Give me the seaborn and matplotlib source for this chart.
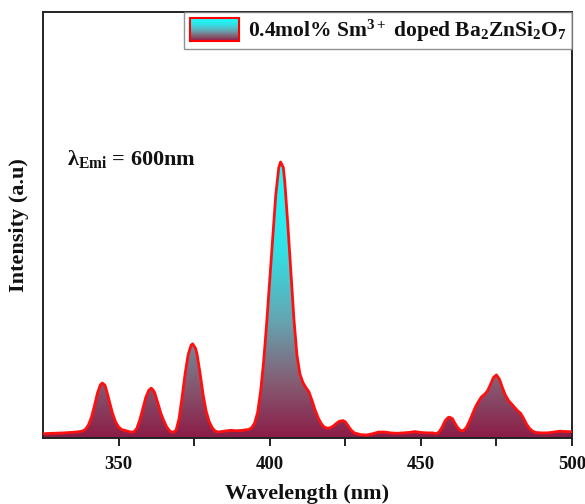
import numpy as np
import pandas as pd
import matplotlib
matplotlib.use("Agg")
import matplotlib.pyplot as plt
import seaborn as sns
from matplotlib.colors import LinearSegmentedColormap
from matplotlib.patches import Polygon, Rectangle
from matplotlib.legend_handler import HandlerBase

# ---- data ----
wavelength = [325, 328, 332, 336, 338, 339, 340, 341, 342, 343, 344, 344.6, 345.5, 346, 347, 348, 349, 350,
              351, 352, 353, 354, 355, 356, 357, 358, 359, 360, 360.8, 361.5, 362, 363, 364, 365, 366, 367,
              368, 369, 370, 371, 372, 373, 374, 374.5, 375.5, 376, 377, 378, 379, 380, 381, 382, 383, 385,
              387, 389, 391, 393, 394, 395, 396, 397, 398, 399, 400, 401, 402, 403, 403.6, 404.5, 405, 406,
              407, 408, 409, 410, 411, 412, 413, 414, 415, 416, 417, 418, 419, 420, 421, 422, 423, 424.2,
              425, 426, 427, 428, 430, 432, 434, 436, 438, 440, 442, 444, 446, 448, 450, 452, 454, 455, 456,
              457, 458, 459, 459.5, 460.5, 461, 462, 463, 464, 465, 466, 467, 468, 469, 470, 471, 472, 473,
              474, 475, 476, 477, 478, 479, 480, 481, 482, 483, 484, 485, 486, 487, 488, 490, 492, 494, 496,
              498, 500]
intensity = [0.010, 0.011, 0.012, 0.014, 0.016, 0.020, 0.030, 0.048, 0.075, 0.105, 0.125, 0.129, 0.124, 0.112,
             0.085, 0.058, 0.038, 0.026, 0.020, 0.018, 0.016, 0.014, 0.014, 0.022, 0.042, 0.068, 0.095, 0.112,
             0.117, 0.112, 0.105, 0.082, 0.058, 0.040, 0.025, 0.016, 0.013, 0.018, 0.045, 0.095, 0.150, 0.195,
             0.218, 0.221, 0.210, 0.195, 0.150, 0.100, 0.062, 0.038, 0.024, 0.016, 0.014, 0.016, 0.018, 0.017,
             0.018, 0.020, 0.024, 0.035, 0.060, 0.110, 0.180, 0.270, 0.370, 0.470, 0.570, 0.635, 0.648, 0.635,
             0.600, 0.500, 0.390, 0.280, 0.195, 0.150, 0.130, 0.118, 0.108, 0.088, 0.066, 0.048, 0.034, 0.026,
             0.023, 0.024, 0.028, 0.034, 0.039, 0.041, 0.038, 0.028, 0.018, 0.012, 0.008, 0.007, 0.010, 0.014,
             0.014, 0.012, 0.011, 0.012, 0.013, 0.015, 0.013, 0.012, 0.012, 0.010, 0.014, 0.025, 0.040, 0.048,
             0.049, 0.045, 0.038, 0.026, 0.018, 0.017, 0.024, 0.038, 0.055, 0.072, 0.085, 0.096, 0.102, 0.110,
             0.125, 0.142, 0.148, 0.138, 0.118, 0.100, 0.088, 0.080, 0.072, 0.064, 0.058, 0.046, 0.032, 0.022,
             0.016, 0.013, 0.012, 0.012, 0.014, 0.016, 0.015, 0.015]
major_ticks = [350, 400, 450, 500]
minor_ticks = [375, 425, 475]
legend_label = r"0.4mol% Sm$^{\mathbf{3+}}$ doped Ba$_\mathbf{2}$ZnSi$_\mathbf{2}$O$_\mathbf{7}$"
annotation = r"$\mathbf{\lambda}_{\mathbf{Emi}}$ = 600nm"

df = pd.DataFrame({"Wavelength": wavelength, "Intensity": intensity})

sns.set_theme(style="ticks")
plt.rcParams["font.family"] = ["Liberation Serif", "DejaVu Serif"]
plt.rcParams["font.weight"] = "bold"
plt.rcParams["mathtext.fontset"] = "custom"
plt.rcParams["mathtext.rm"] = "Liberation Serif:bold"
plt.rcParams["mathtext.bf"] = "Liberation Serif:bold"
plt.rcParams["mathtext.it"] = "Liberation Serif:bold"

fig = plt.figure(figsize=(5.85, 5.04), dpi=100)
ax = fig.add_axes([43 / 585, 1 - 438 / 504, (572 - 43) / 585, (438 - 12) / 504])

cmap = LinearSegmentedColormap.from_list(
    "grad",
    [(0.0, (0.55, 0.11, 0.28)), (0.2, (0.52, 0.36, 0.45)), (0.42, (0.40, 0.64, 0.69)),
     (0.68, (0.20, 0.88, 0.90)), (1.0, (0.10, 1.0, 1.0))])

xmin, xmax = 325, 500
ymax_data = max(intensity)
grad = np.linspace(0, 1, 256).reshape(-1, 1)
img = ax.imshow(grad, cmap=cmap, origin="lower", aspect="auto",
                extent=[xmin, xmax, 0, ymax_data], zorder=1)
verts = [(xmin, 0)] + list(zip(wavelength, intensity)) + [(xmax, 0)]
poly = Polygon(verts, closed=True, facecolor="none", edgecolor="none", transform=ax.transData)
ax.add_patch(poly)
img.set_clip_path(poly)

sns.lineplot(data=df, x="Wavelength", y="Intensity", ax=ax, color="#ff1010", linewidth=2.0, zorder=3)

ax.set_xlim(xmin, xmax)
ax.set_ylim(0, 1.0)
ax.set_xticks(major_ticks)
ax.set_xticks(minor_ticks, minor=True)
ax.set_yticks([])
ax.tick_params(axis="x", which="both", direction="out", length=6, width=1.3, pad=7,
               labelsize=13.5, top=False, colors="#111111")
for lbl in ax.get_xticklabels():
    lbl.set_fontweight("bold")
for s in ax.spines.values():
    s.set_linewidth(1.4)
    s.set_color("#222222")

ax.set_xlabel("Wavelength (nm)", fontsize=16, fontweight="bold", labelpad=8, color="#111111")
ax.set_ylabel("Intensity (a.u)", fontsize=16, fontweight="bold", labelpad=10, color="#111111")

ax.text(0.045, 0.655, annotation, transform=ax.transAxes, fontsize=16, fontweight="bold",
        va="center", ha="left", color="#111111")


class GradientHandler(HandlerBase):
    def create_artists(self, legend, orig_handle, xdescent, ydescent, width, height, fontsize, trans):
        arts = []
        n = 24
        for i in range(n):
            c = cmap(1 - (i + 0.5) / n)
            r = Rectangle((-xdescent, -ydescent + height * (1 - (i + 1) / n)), width, height / n,
                          facecolor=c, edgecolor="none", transform=trans)
            arts.append(r)
        border = Rectangle((-xdescent, -ydescent), width, height, facecolor="none",
                           edgecolor="#ff0000", linewidth=1.5, transform=trans)
        arts.append(border)
        return arts


handle = Rectangle((0, 0), 1, 1)
leg = ax.legend([handle], [legend_label], handler_map={Rectangle: GradientHandler()},
                loc="upper right", borderaxespad=0, fancybox=False, frameon=True,
                prop={"family": "Liberation Serif", "weight": "bold", "size": 15.5},
                handlelength=2.3, handleheight=1.25, handletextpad=0.4, borderpad=0.25,
                labelcolor="#111111")
leg.get_frame().set_edgecolor("#777777")
leg.get_frame().set_linewidth(1.0)
leg.set_zorder(5)

fig.savefig("out.png", dpi=100)
